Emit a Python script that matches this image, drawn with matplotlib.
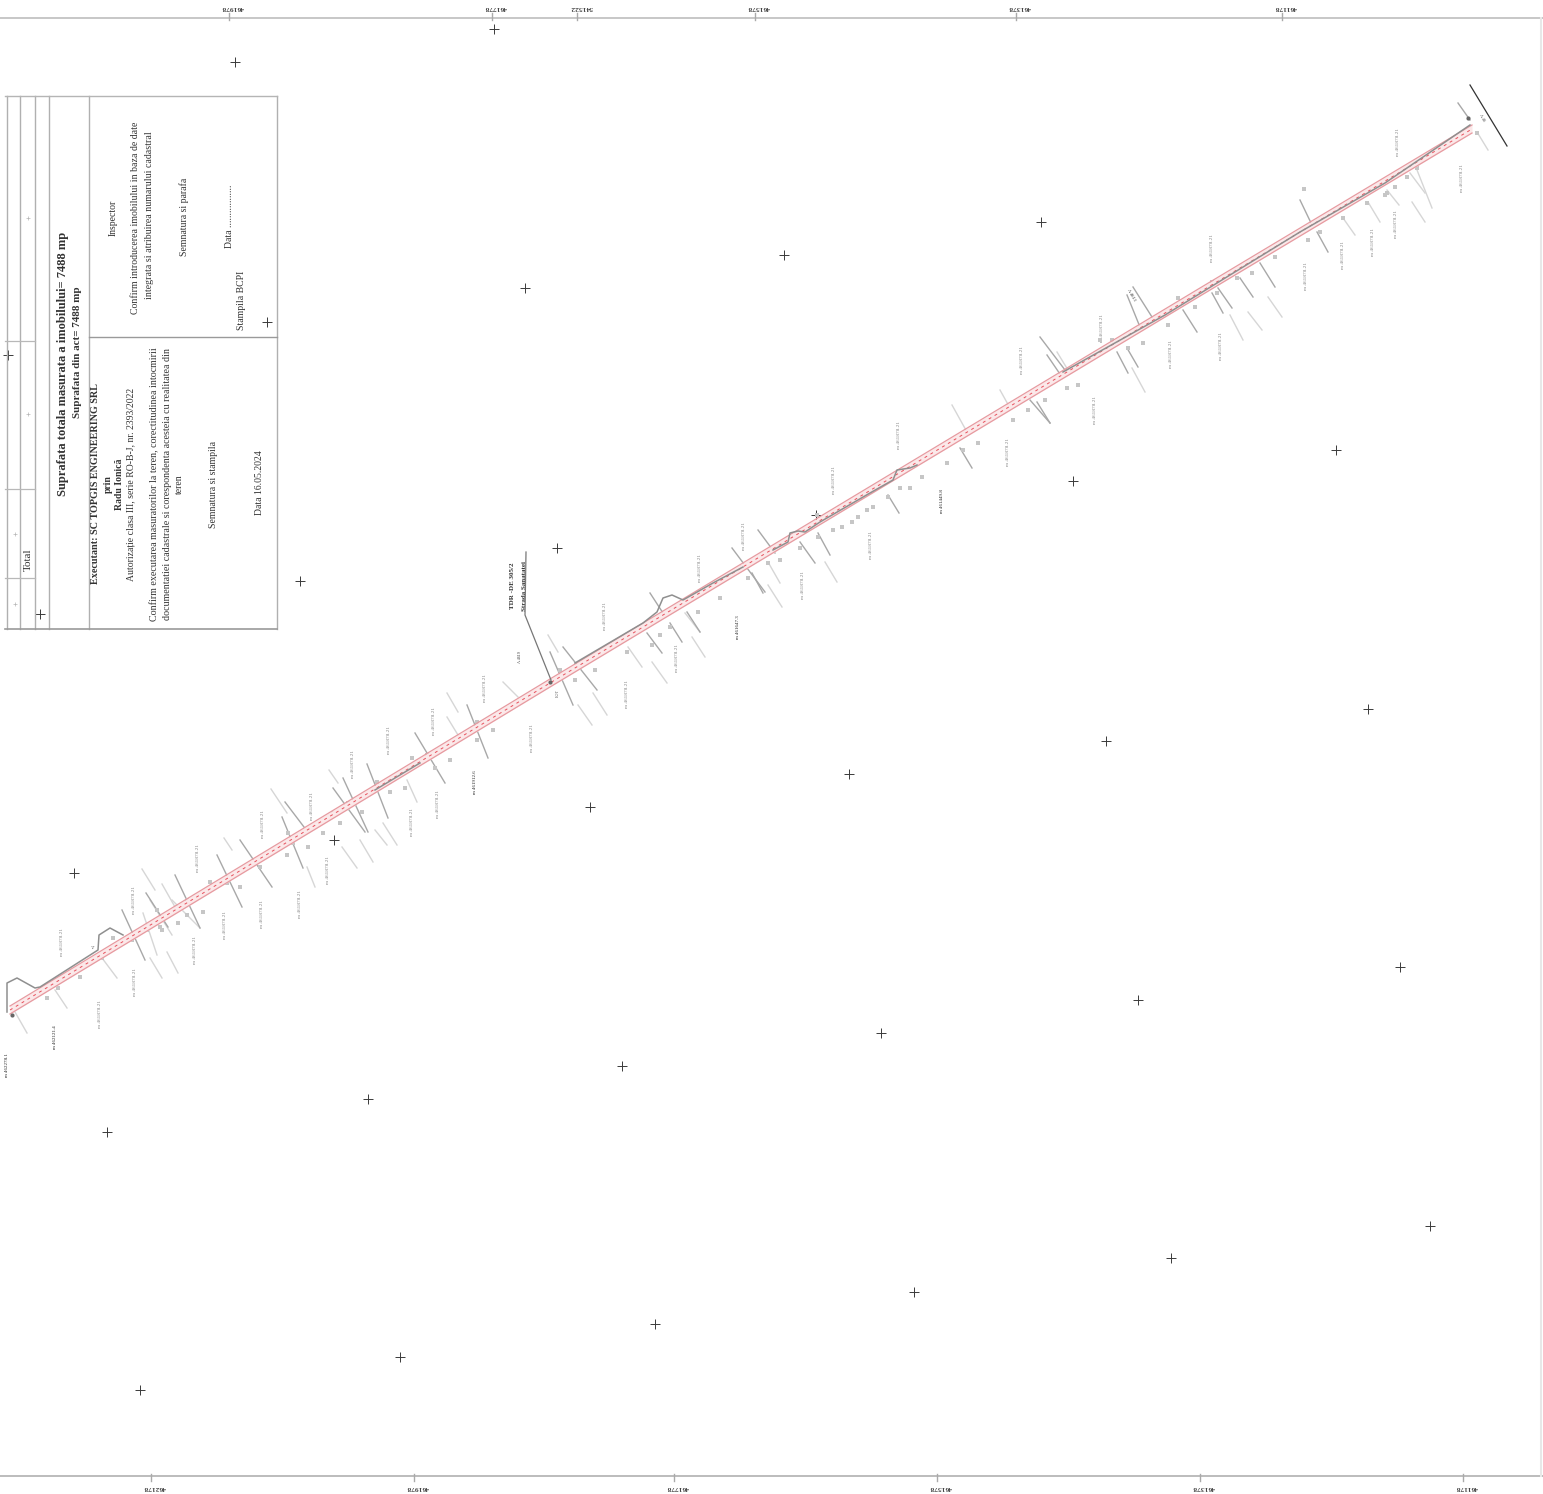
import matplotlib
matplotlib.use('Agg')
import matplotlib.pyplot as plt

plt.rcParams['font.family'] = ['Liberation Serif', 'DejaVu Serif']

# everything is in sheet coordinates (y goes down)
road_x = [10, 550, 1200, 1472]
road_y = [1010, 683, 292, 129]

# gray boundary line on the upper side of the road, with its detours
border_parts = [
	[(7,1012),(7,983),(17,978),(35,988),(40,987),(98,950),(99,935),(110,928),(123,935)],
	[(375,790),(420,763)],
	[(575,663),(643,623),(657,612),(663,598),(672,595),(683,600),(713,583),(743,567)],
	[(773,550),(788,542),(790,533),(798,531),(805,532),(820,522),(870,493),(893,480),(897,470),(910,468),(917,465)],
	[(1063,372),(1165,315),(1300,232),(1385,183),(1470,125)],
]

access_road_x = [526, 525, 551]
access_road_y = [552, 615, 680]

end_line_x = [1470, 1507]
end_line_y = [85, 146]

cross_x = [235,494,525,784,1041,267,557,300,1073,1336,74,590,849,1106,1368,107,368,622,881,1138,1400,140,400,655,914,1171,1430,40,8,334,816]
cross_y = [62,29,288,255,222,322,548,581,481,450,873,807,774,741,709,1132,1099,1066,1033,1000,967,1390,1357,1324,1292,1258,1226,614,355,840,515]

top_tick_x = [229, 492, 577, 755, 1016, 1282]
top_tick_labels = ['461978', '461778', '541522', '461578', '461378', '461178']
bottom_tick_x = [151, 414, 674, 937, 1200, 1463]
bottom_tick_labels = ['462178', '461978', '461778', '461578', '461378', '461178']

strokes_dark = [
	(122,910,145,960),(146,893,168,927),(175,875,200,928),(217,855,242,907),(240,840,272,887),
	(285,802,304,827),(282,817,303,868),(333,788,365,832),(343,778,368,832),(367,764,388,818),
	(415,733,445,783),(467,705,488,758),(550,652,573,705),(563,647,597,690),(647,633,662,653),
	(650,593,663,613),(670,623,682,642),(732,548,765,592),(687,612,700,632),(752,573,763,593),
	(758,530,775,553),(800,542,815,563),(818,533,830,555),(888,495,899,513),(960,448,972,468),
	(1030,400,1050,423),(1040,337,1065,370),(1047,355,1062,377),(1037,402,1050,423),(1117,352,1128,373),
	(1127,348,1138,367),(1127,295,1140,327),(1133,287,1152,317),(1183,310,1197,332),(1212,293,1223,313),
	(1218,288,1232,308),(1240,278,1253,297),(1260,263,1275,287),(1300,200,1312,225),(1317,232,1328,252),
	(1458,103,1470,120),
]
strokes_faint = [
	(15,1012,27,1033),(55,990,67,1008),(102,958,117,978),(150,958,162,978),(143,913,157,955),
	(167,952,178,973),(150,900,172,935),(172,900,200,928),(162,884,175,907),(142,869,155,890),
	(224,838,232,850),(271,789,287,813),(307,867,315,887),(329,770,338,783),(383,823,397,845),
	(360,840,373,862),(342,847,357,868),(407,780,417,802),(447,693,458,712),(447,717,458,735),
	(375,830,387,845),(503,682,518,697),(548,635,558,652),(593,693,607,715),(578,705,592,725),
	(628,647,642,667),(652,662,667,683),(685,613,700,632),(692,637,705,657),(768,562,780,583),
	(768,585,782,607),(825,562,837,582),(952,405,967,432),(1000,390,1010,408),(1057,352,1068,370),
	(1132,368,1145,392),(1230,315,1243,340),(1248,312,1262,330),(1268,297,1282,317),(1343,218,1355,235),
	(1368,202,1380,222),(1410,173,1425,193),(1417,170,1432,208),(1412,202,1425,222),(1387,190,1399,205),
	(1477,132,1488,150),
]

# vertical coordinate strings beside the road: x, top y, bottom y
label_strip = [
	(62,930,955),(135,968,997),(100,1000,1027),(225,912,938),(195,937,963),(198,845,870),
	(134,887,912),(262,900,927),(300,891,917),(328,857,883),(263,810,837),(312,793,820),(353,750,777),
	(389,727,753),(434,708,734),(412,808,835),(438,790,817),(605,603,630),(700,555,582),
	(627,680,707),(677,645,672),(532,725,752),(485,675,700),(744,523,550),(834,467,493),(899,422,448),
	(803,572,598),(871,532,558),(1008,438,465),(1022,347,373),(1102,315,342),(1212,235,260),(1095,398,423),
	(1171,340,367),(1221,333,358),(1306,263,288),(1343,243,267),(1373,230,255),(1396,212,237),(1398,128,155),
	(1462,165,192),
]
label_strip_text = 'm 461878.21'

dark_label_x = [7, 55, 475, 738, 942]
dark_label_y = [1065, 1037, 782, 627, 501]
dark_label_text = ['m 462278.1', 'm 462121.4', 'm 461912.6', 'm 461647.3', 'm 461449.8']

blob_x = [148,160,157,187,187,178,203,227,240,210,260,288,293,287,308,323,333,340,348,355,362,377,390,405,412,435,427,450,477,477,493,
	47,58,80,102,113,132,147,162,568,575,560,595,627,652,660,670,698,720,748,742,768,780,800,817,818,833,842,852,858,867,873,888,900,910,922,947,963,978,1013,1028,
	1045,1067,1078,1100,1112,1128,1143,1168,1178,1195,1212,1217,1237,1252,1275,1308,1320,1343,1367,1387,1304,1407,1417,1395,1477,1385]
blob_y = [928,927,910,900,915,923,912,883,887,882,867,833,843,855,847,833,813,823,803,802,812,782,792,788,758,768,755,760,722,740,730,
	998,988,977,958,938,940,930,930,673,680,670,670,652,645,635,627,612,598,578,567,563,560,548,515,537,530,527,522,517,510,507,497,488,488,477,463,450,443,420,410,
	400,388,385,340,340,348,343,325,298,307,282,293,278,273,257,240,232,218,203,193,189,177,168,187,133,195]
spot_x = [12, 550, 1468]
spot_y = [1015, 682, 118]

table_v_x = [7, 20, 35, 49, 89, 277]
table_top = 96
table_bottom = 629
table_mid_y = 337
table_left_rows = [341, 489, 578]
faint_dot_x = [28, 28, 15, 15]
faint_dot_y = [218, 414, 534, 604]

# table text: string, x, centre y, size, bold
table_text = [
	('Suprafata totala masurata a imobilului= 7488 mp', 63, 364, 9.0, True),
	('Suprafata din act= 7488 mp', 78, 352, 7.9, True),
	('Executant: SC TOPGIS ENGINEERING SRL', 96, 484, 7.3, True),
	('prin', 108, 484, 7.0, True),
	('Radu Ionică', 119, 484, 7.0, True),
	('Autorizație clasa III, serie RO-B-J, nr. 2393/2022', 131, 484, 7.0, False),
	('Confirm executarea masuratorilor la teren, corectitudinea intocmirii', 155, 484, 7.2, False),
	('documentatiei cadastrale si corespondenta acesteia cu realitatea din', 167, 484, 7.2, False),
	('teren', 179, 484, 7.0, False),
	('Semnatura si stampila', 213, 484, 7.0, False),
	('Data 16.05.2024', 259, 483, 7.0, False),
	('Inspector', 113, 218, 7.0, False),
	('Confirm introducerea imobilului in baza de date', 136, 218, 7.1, False),
	('integrata si atribuirea numarului cadastral', 149, 215, 7.1, False),
	('Semnatura si parafa', 184, 217, 7.0, False),
	('Data .................', 229, 216, 7.0, False),
	('Stampila BCPI', 241, 300, 7.0, False),
	('Total', 28, 560, 8.0, False),
]

fig = plt.figure(figsize=(15.43, 14.94), dpi=100)
ax = fig.add_axes([0, 0, 1, 1])
ax.set_xlim(0, 1543)
ax.set_ylim(1494, 0)
ax.axis('off')

# sheet frame
ax.plot([0, 1543], [18, 18], color='#bdbdbd', linewidth=1.2)
ax.plot([0, 1543], [1476, 1476], color='#b0b0b0', linewidth=1.2)
ax.plot([1541, 1541], [18, 1476], color='#e8e8e8', linewidth=1.5)

for i in range(len(top_tick_x)):
	ax.plot([top_tick_x[i]]*2, [13, 20], color='#aaaaaa', linewidth=1)
	ax.text(top_tick_x[i] + 4, 8, top_tick_labels[i], rotation=180, ha='center', va='center', fontsize=5.4, fontweight='bold', color='#444444')
for i in range(len(bottom_tick_x)):
	ax.plot([bottom_tick_x[i]]*2, [1474, 1481], color='#aaaaaa', linewidth=1)
	ax.text(bottom_tick_x[i] + 4, 1487, bottom_tick_labels[i], rotation=180, ha='center', va='center', fontsize=5.4, fontweight='bold', color='#444444')

ax.plot(cross_x, cross_y, linestyle='none', marker='+', markersize=7.5, markeredgewidth=0.7, color='#3a3a3a')
ax.plot(faint_dot_x, faint_dot_y, linestyle='none', marker='+', markersize=3, markeredgewidth=0.5, color='#b5b5b5')

# table
for x in table_v_x:
	ax.plot([x, x], [table_top, table_bottom], color='#b0b0b0', linewidth=1)
ax.plot([5, 277], [table_top, table_top], color='#b5b5b5', linewidth=1)
ax.plot([5, 277], [table_bottom, table_bottom], color='#9a9a9a', linewidth=1.2)
ax.plot([89, 277], [table_mid_y, table_mid_y], color='#9a9a9a', linewidth=1)
for y in table_left_rows:
	ax.plot([5, 35], [y, y], color='#b8b8b8', linewidth=0.9)
for s, x, y, size, bold in table_text:
	ax.text(x, y, s, rotation=90, ha='center', va='center', fontsize=size, color='#333333',
		fontweight='bold' if bold else 'normal')

# side strokes first so the road goes over them
for x0, y0, x1, y1 in strokes_faint:
	ax.plot([x0, x1], [y0, y1], color='#d6d6d6', linewidth=1)
for x0, y0, x1, y1 in strokes_dark:
	ax.plot([x0, x1], [y0, y1], color='#a8a8a8', linewidth=1)

for x, y0, y1 in label_strip:
	ax.text(x, (y0 + y1) / 2, label_strip_text, rotation=90, ha='center', va='center', fontsize=3.8, color='#8a8a8a')
for i in range(len(dark_label_x)):
	ax.text(dark_label_x[i], dark_label_y[i], dark_label_text[i], rotation=90, ha='center', va='center', fontsize=3.6, color='#222222')

ax.scatter(blob_x, blob_y, s=7, marker='s', color='#c6c6c6', linewidths=0, zorder=3)

# road band
upper = [y - 4 for y in road_y]
lower = [y + 4 for y in road_y]
ax.fill_between(road_x, upper, lower, color='#fbe8e9', linewidth=0, zorder=4)
ax.plot(road_x, upper, color='#e79aa0', linewidth=0.9, zorder=5)
ax.plot(road_x, lower, color='#e79aa0', linewidth=0.9, zorder=5)
ax.plot(road_x, road_y, color='#e8505c', linewidth=0.7, linestyle=(0, (3, 4)), zorder=5)

for part in border_parts:
	ax.plot([p[0] for p in part], [p[1] for p in part], color='#8f8f8f', linewidth=1.1, zorder=6)
ax.scatter(spot_x, spot_y, s=9, color='#666666', linewidths=0, zorder=7)

ax.plot(access_road_x, access_road_y, color='#777777', linewidth=0.9, zorder=6)
ax.plot(end_line_x, end_line_y, color='#333333', linewidth=0.9)

ax.text(513, 586, 'TDR -DE 305/2', rotation=90, ha='center', va='center', fontsize=5, fontweight='bold', color='#333333')
ax.text(524, 586, 'Strada Sanatatei', rotation=90, ha='center', va='center', fontsize=5, fontweight='bold', color='#333333')
ax.text(520, 657, 'A 4619', rotation=90, ha='center', va='center', fontsize=3, color='#333333')
ax.text(558, 693, 'LOT', rotation=90, ha='center', va='center', fontsize=3, color='#555555')
ax.text(1131, 295, 'A 4613', rotation=-60, ha='center', va='center', fontsize=3.2, color='#222222')
ax.text(1482, 118, 'A 46', rotation=-60, ha='center', va='center', fontsize=3, color='#333333')
ax.text(92, 947, 'A', rotation=-60, ha='center', va='center', fontsize=3, color='#333333')

plt.savefig('out.png', dpi=100)
